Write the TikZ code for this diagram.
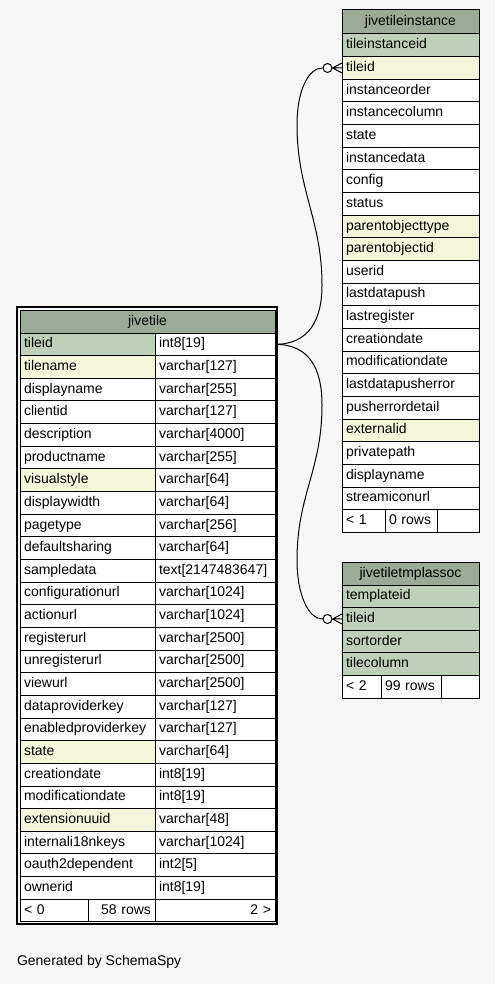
\documentclass[tikz,border=0pt]{standalone}
\usepackage{fontspec}
\setmainfont{Liberation Sans}
\usetikzlibrary{calc}

\definecolor{bgcol}{HTML}{F7F7F7}
\definecolor{headcol}{HTML}{9BAB96}
\definecolor{pkcol}{HTML}{BED1B8}
\definecolor{idxcol}{HTML}{F4F7DA}

\begin{document}
\begin{tikzpicture}[x=1pt, y=-1pt, font=\fontsize{14}{16}\selectfont]

    % výška řádku
    \def\RH{22.65}

    % styly buněk a spojnic
    \tikzset{
        cell/.style={draw=black, line width=1pt, anchor=north west, outer sep=0pt,
            inner xsep=4pt, inner ysep=0pt, minimum height=\RH pt,
            text height=10pt, text depth=3pt},
        odot/.style={circle, draw=black, line width=1pt, fill=bgcol,
            minimum size=9pt, inner sep=0pt},
        fk/.style={draw=black, line width=1pt}
    }

    % pomocné makro pro jednu buňku: jméno, x, y, šířka, volby, text
    \newcommand{\fillrow}[6]{%
        \pgfmathsetmacro\cellw{#4-8}
        \node[cell, minimum width=#4pt, text width=\cellw pt, align=left, #5] (#1) at (#2,#3) {#6};
    }

    % pozadí
    \fill[bgcol] (0,0) rectangle (495,984);
    \useasboundingbox (0,0) rectangle (495,984);

    % --- tabulka jivetile ---
    \fillrow{jt-head}{20}{310}{255}{fill=headcol, align=center, minimum height=23pt}{jivetile}
    \foreach [count=\i from 0] \colname/\coltype/\colfill in {
        tileid/int8[19]/pkcol, tilename/varchar[127]/idxcol,
        displayname/varchar[255]/white, clientid/varchar[127]/white,
        description/varchar[4000]/white, productname/varchar[255]/white,
        visualstyle/varchar[64]/idxcol, displaywidth/varchar[64]/white,
        pagetype/varchar[256]/white, defaultsharing/varchar[64]/white,
        sampledata/text[2147483647]/white, configurationurl/varchar[1024]/white,
        actionurl/varchar[1024]/white, registerurl/varchar[2500]/white,
        unregisterurl/varchar[2500]/white, viewurl/varchar[2500]/white,
        dataproviderkey/varchar[127]/white, enabledproviderkey/varchar[127]/white,
        state/varchar[64]/idxcol, creationdate/int8[19]/white,
        modificationdate/int8[19]/white, extensionuuid/varchar[48]/idxcol,
        internali18nkeys/varchar[1024]/white, oauth2dependent/int2[5]/white,
        ownerid/int8[19]/white} {
        \pgfmathsetmacro\yy{333+\i*\RH}
        \fillrow{jt-\colname}{20}{\yy}{135}{fill=\colfill}{\colname}
        \fillrow{jt-\colname-type}{155}{\yy}{120}{fill=white}{\coltype}
    }
    \pgfmathsetmacro\yy{333+25*\RH}
    \fillrow{jt-foot1}{20}{\yy}{68}{fill=white}{< 0}
    \fillrow{jt-foot2}{88}{\yy}{67}{fill=white, align=right}{58 rows}
    \fillrow{jt-foot3}{155}{\yy}{120}{fill=white, align=right}{2 >}
    \draw[line width=2pt] ($(jt-head.north west)+(-3,-3)$) rectangle ($(jt-foot3.south east)+(2,2.5)$);

    % --- tabulka jivetileinstance ---
    \fillrow{ji-head}{342}{10}{137}{fill=headcol, align=center, minimum height=24pt}{jivetileinstance}
    \foreach [count=\i from 0] \colname/\colfill in {
        tileinstanceid/pkcol, tileid/idxcol, instanceorder/white,
        instancecolumn/white, state/white, instancedata/white, config/white,
        status/white, parentobjecttype/idxcol, parentobjectid/idxcol,
        userid/white, lastdatapush/white, lastregister/white,
        creationdate/white, modificationdate/white, lastdatapusherror/white,
        pusherrordetail/white, externalid/idxcol, privatepath/white,
        displayname/white, streamiconurl/white} {
        \pgfmathsetmacro\yy{34+\i*\RH}
        \fillrow{ji-\colname}{342}{\yy}{137}{fill=\colfill}{\colname}
    }
    \pgfmathsetmacro\yy{34+21*\RH}
    \fillrow{ji-foot1}{342}{\yy}{43}{fill=white}{< 1}
    \fillrow{ji-foot2}{385}{\yy}{52}{fill=white}{0 rows}
    \fillrow{ji-foot3}{437}{\yy}{42}{fill=white}{}

    % --- tabulka jivetiletmplassoc ---
    \fillrow{ja-head}{342}{562}{137}{fill=headcol, align=center, minimum height=23pt}{jivetiletmplassoc}
    \foreach [count=\i from 0] \colname in {templateid, tileid, sortorder, tilecolumn} {
        \pgfmathsetmacro\yy{585+\i*\RH}
        \fillrow{ja-\colname}{342}{\yy}{137}{fill=pkcol}{\colname}
    }
    \pgfmathsetmacro\yy{585+4*\RH}
    \fillrow{ja-foot1}{342}{\yy}{39}{fill=white}{< 2}
    \fillrow{ja-foot2}{381}{\yy}{60}{fill=white}{99 rows}
    \fillrow{ja-foot3}{441}{\yy}{38}{fill=white}{}

    % kroužky u cizích klíčů
    \node[odot] (ji-dot) at ($(ji-tileid.west)+(-14.5,0)$) {};
    \node[odot] (ja-dot) at ($(ja-tileid.west)+(-14.5,0)$) {};

    % spojnice jivetile -> jivetileinstance
    \draw[fk] (jt-tileid-type.east) .. controls +(34,0) and +(0,35) .. (322,285)
        .. controls +(0,-65) and +(0,65) .. (297,125)
        .. controls +(0,-35) and +(-14,0) .. (ji-dot.west);
    \draw[fk] (ji-dot.east) -- ($(ji-tileid.west)+(0,-5)$)
        (ji-dot.east) -- (ji-tileid.west)
        (ji-dot.east) -- ($(ji-tileid.west)+(0,5)$);

    % spojnice jivetile -> jivetiletmplassoc
    \draw[fk] (jt-tileid-type.east) .. controls +(34,0) and +(0,-37) .. (322,405)
        .. controls +(0,65) and +(0,-65) .. (297,560)
        .. controls +(0,35) and +(-14,0) .. (ja-dot.west);
    \draw[fk] (ja-dot.east) -- ($(ja-tileid.west)+(0,-5)$)
        (ja-dot.east) -- (ja-tileid.west)
        (ja-dot.east) -- ($(ja-tileid.west)+(0,5)$);

    % popisek
    \node[anchor=west] (gen) at (13.5,962) {Generated by SchemaSpy};

\end{tikzpicture}
\end{document}
